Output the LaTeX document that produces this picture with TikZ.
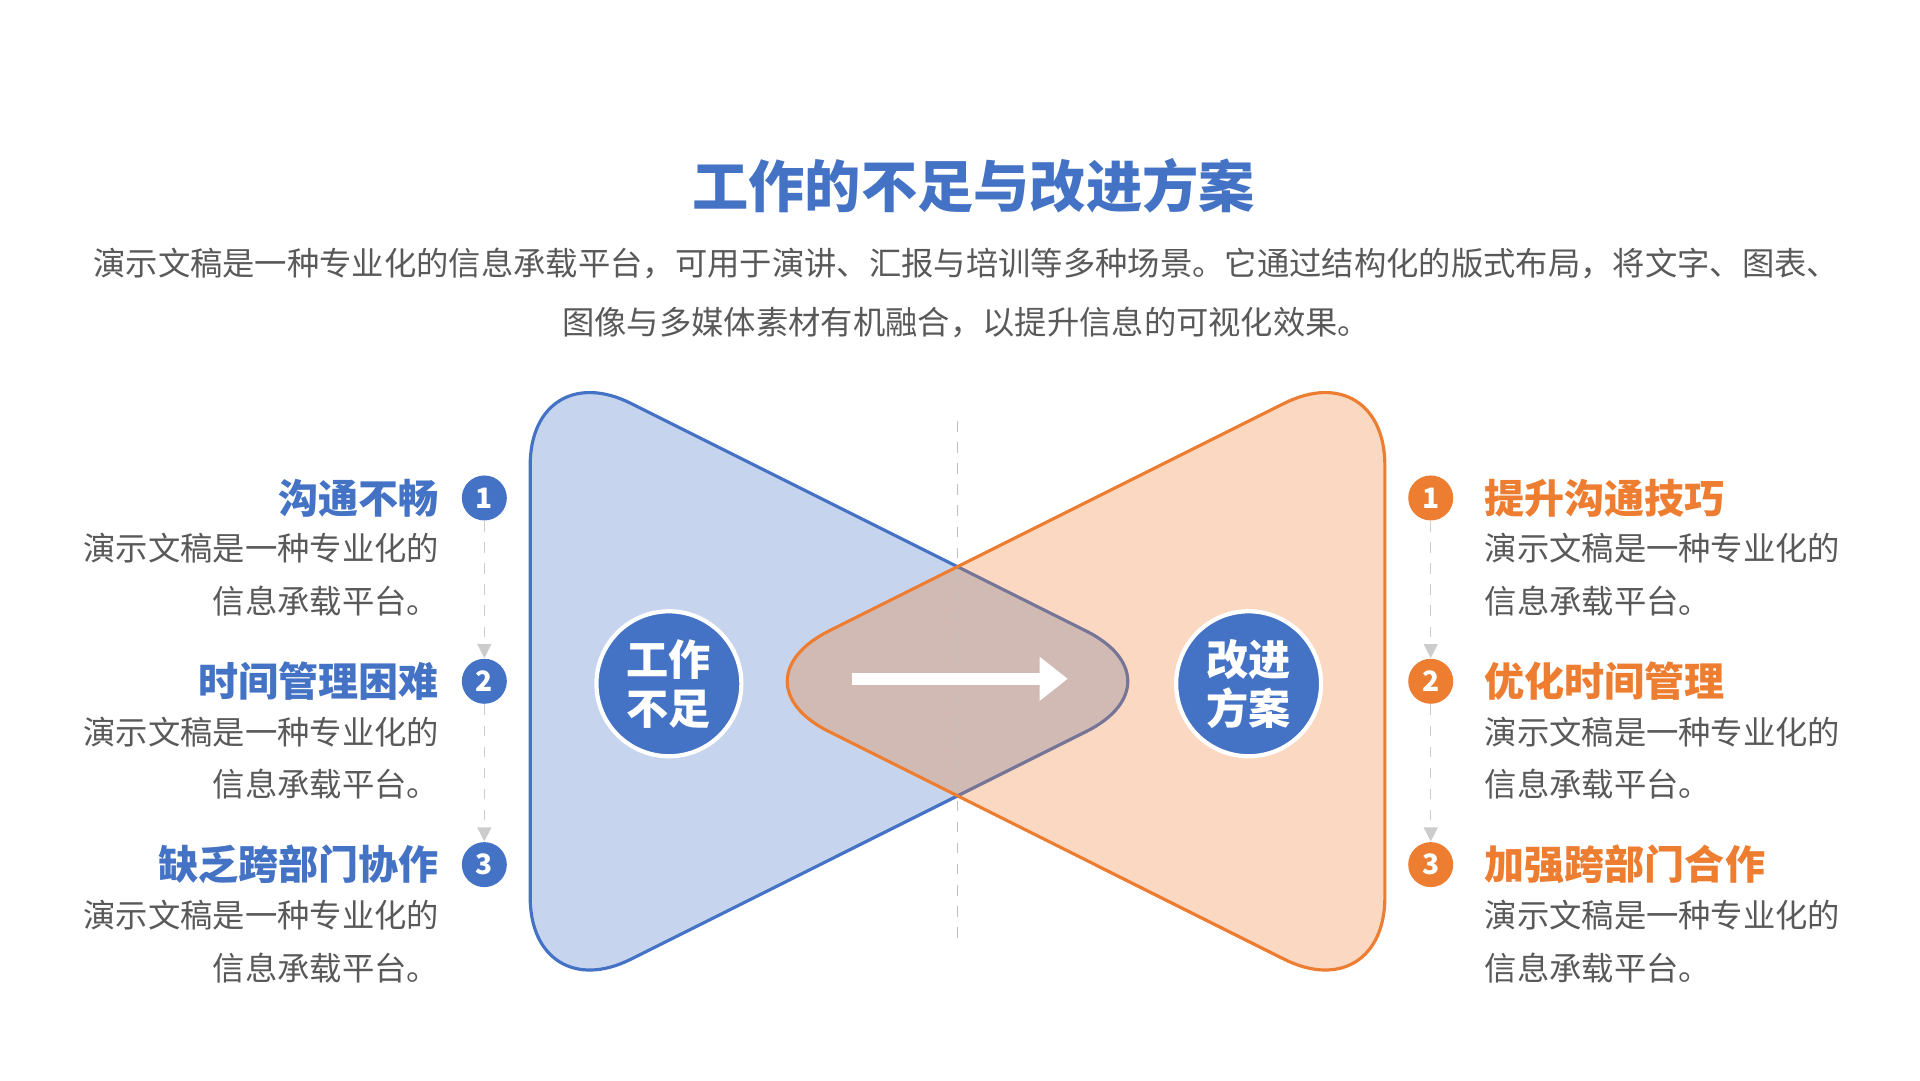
\documentclass[tikz,border=0pt]{standalone}
\usepackage{fontspec}
\setmainfont{Noto Sans CJK SC}
\usetikzlibrary{arrows.meta}
\definecolor{blueA}{HTML}{4472C4}
\definecolor{orangeA}{HTML}{ED7D31}
\definecolor{grayT}{HTML}{595959}
\begin{document}
\begin{tikzpicture}[x=0.012387cm, y=-0.012387cm,
    num/.style={circle, fill=#1, text=white, minimum size=0.45cm, inner sep=0pt, font=\fontsize{8}{8}\selectfont\bfseries},
    head/.style={text=#1, font=\fontsize{11.4}{13}\selectfont\bfseries, inner sep=0pt},
    body/.style={text=grayT, font=\fontsize{9.2}{15}\selectfont, inner sep=0pt},
    big/.style={circle, fill=blueA, draw=white, line width=1.2pt, minimum size=1.45cm, inner sep=1pt, text=white, align=center, font=\fontsize{12}{14}\selectfont\bfseries}]
    \useasboundingbox (0,0) rectangle (1550,872);

    % Title and intro
    \node[text=blueA, font=\fontsize{16}{20}\selectfont\bfseries] (title) at (786,150) {工作的不足与改进方案};
    \node[text=grayT, font=\fontsize{9.2}{9.2}\selectfont] (introA) at (780,213) {演示文稿是一种专业化的信息承载平台，可用于演讲、汇报与培训等多种场景。它通过结构化的版式布局，将文字、图表、};
    \node[text=grayT, font=\fontsize{9.2}{9.2}\selectfont] (introB) at (780,260) {图像与多媒体素材有机融合，以提升信息的可视化效果。};

    % Two rounded triangles
    \draw[blueA, fill=blueA, fill opacity=0.3, line width=0.9pt, rounded corners=32]
        (428,285) -- (958,550) -- (428,815) -- cycle;
    \draw[orangeA, fill=orangeA, fill opacity=0.3, line width=0.9pt, rounded corners=32]
        (1118,285) -- (1118,815) -- (588,550) -- cycle;
    \draw[gray!50, dashed] (773,340) -- (773,762);

    % Centre circles and arrow
    \node[big] (lack) at (540,552) {工作\\不足};
    \node[big] (plan) at (1008,552) {改进\\方案};
    \coordinate (arrS) at (688,548);
    \coordinate (arrE) at (862,548);
    \draw[white, line width=3.5pt, -{Triangle[length=8pt, width=12pt]}] (arrS) -- (arrE);

    % Left items
    \foreach \i/\y/\t in {1/402/沟通不畅, 2/550/时间管理困难, 3/698/缺乏跨部门协作} {
        \node[num=blueA] (l\i) at (391,\y) {\i};
        \node[head=blueA, anchor=east] (lh\i) at (355,\y) {\t};
        \node[body, anchor=north east, align=right] (lb\i) at (355,\y+28) {演示文稿是一种专业化的\\信息承载平台。};
    }
    % Right items
    \foreach \i/\y/\t in {1/402/提升沟通技巧, 2/550/优化时间管理, 3/698/加强跨部门合作} {
        \node[num=orangeA] (r\i) at (1155,\y) {\i};
        \node[head=orangeA, anchor=west] (rh\i) at (1198,\y) {\t};
        \node[body, anchor=north west, align=left] (rb\i) at (1198,\y+28) {演示文稿是一种专业化的\\信息承载平台。};
    }
    \foreach \a/\b in {1/2, 2/3} {
        \draw[gray!40, dashed, -{Triangle[length=4pt, width=4pt]}] (l\a) -- (l\b);
        \draw[gray!40, dashed, -{Triangle[length=4pt, width=4pt]}] (r\a) -- (r\b);
    }
\end{tikzpicture}
\end{document}
